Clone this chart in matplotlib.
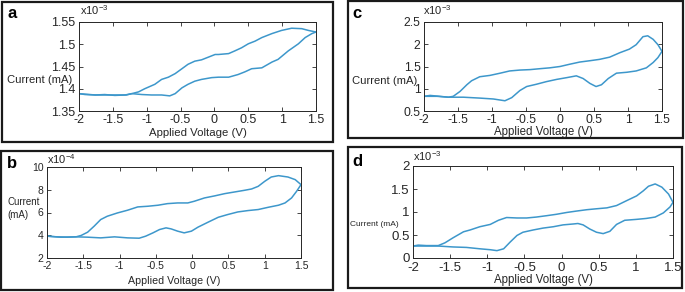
import matplotlib
matplotlib.use("Agg")
import matplotlib.pyplot as plt
from matplotlib.patches import Rectangle
from matplotlib.ticker import FuncFormatter

plt.rcParams['font.family'] = ['Liberation Sans', 'DejaVu Sans']
plt.rcParams['axes.unicode_minus'] = False

W, H = 685, 292
LINE_COLOR = '#3d97cb'

# panel a (x1e-3 mA): forward sweep -2 -> 1.5, then reverse 1.5 -> -2
a_fwd_v = [-2.0, -1.76, -1.5, -1.3, -1.22, -1.07, -0.93, -0.78, -0.66, -0.58, -0.48, -0.39, -0.29, -0.19,
           -0.04, 0.06, 0.21, 0.35, 0.45, 0.55, 0.70, 0.85, 0.94, 1.09, 1.24, 1.34, 1.44, 1.5]
a_fwd_i = [1.389, 1.386, 1.386, 1.386, 1.389, 1.387, 1.386, 1.386, 1.384, 1.389, 1.402, 1.410, 1.417, 1.421,
           1.425, 1.426, 1.426, 1.432, 1.438, 1.445, 1.447, 1.460, 1.466, 1.485, 1.501, 1.515, 1.524, 1.5275]
a_rev_v = [1.5, 1.39, 1.29, 1.14, 0.99, 0.85, 0.70, 0.60, 0.50, 0.40, 0.30, 0.21, 0.06, 0.01, -0.09, -0.19,
           -0.29, -0.39, -0.48, -0.58, -0.68, -0.78, -0.88, -1.03, -1.12, -1.22, -1.32, -1.47, -1.62, -1.76,
           -1.91, -2.0]
a_rev_i = [1.5275, 1.531, 1.535, 1.536, 1.531, 1.524, 1.515, 1.507, 1.501, 1.492, 1.485, 1.479, 1.477, 1.477,
           1.471, 1.465, 1.462, 1.455, 1.445, 1.434, 1.426, 1.421, 1.410, 1.400, 1.393, 1.389, 1.386, 1.385,
           1.387, 1.386, 1.387, 1.389]

# panel b (x1e-4 mA)
b_fwd_v = [-2.0, -1.81, -1.6, -1.44, -1.26, -1.07, -0.89, -0.73, -0.64, -0.54, -0.45, -0.36, -0.29, -0.20,
           -0.11, -0.01, 0.08, 0.22, 0.36, 0.49, 0.63, 0.77, 0.91, 1.05, 1.19, 1.28, 1.37, 1.44, 1.5]
b_fwd_i = [3.92, 3.83, 3.86, 3.83, 3.77, 3.86, 3.77, 3.74, 3.92, 4.21, 4.50, 4.65, 4.56, 4.36,
           4.21, 4.36, 4.71, 5.15, 5.58, 5.82, 6.05, 6.17, 6.26, 6.46, 6.64, 6.84, 7.28, 7.87, 8.45]
b_rev_v = [1.5, 1.42, 1.32, 1.19, 1.09, 1.0, 0.91, 0.82, 0.72, 0.59, 0.45, 0.31, 0.17, 0.03, -0.06, -0.20,
           -0.34, -0.47, -0.61, -0.75, -0.89, -1.03, -1.17, -1.26, -1.35, -1.44, -1.53, -1.60, -1.72, -1.86, -2.0]
b_rev_i = [8.45, 8.89, 9.12, 9.24, 9.12, 8.74, 8.30, 8.07, 7.95, 7.81, 7.66, 7.46, 7.28, 6.99, 6.84, 6.84,
           6.78, 6.64, 6.55, 6.49, 6.20, 5.96, 5.67, 5.38, 4.80, 4.27, 3.98, 3.86, 3.83, 3.86, 3.92]

# panel c (x1e-3 mA)
c_fwd_v = [-2.0, -1.81, -1.64, -1.42, -1.18, -0.98, -0.81, -0.71, -0.59, -0.49, -0.35, -0.20, -0.05, 0.10,
           0.24, 0.34, 0.44, 0.53, 0.61, 0.71, 0.83, 0.98, 1.12, 1.27, 1.37, 1.44, 1.5]
c_fwd_i = [0.83, 0.83, 0.81, 0.81, 0.79, 0.77, 0.73, 0.80, 0.96, 1.05, 1.10, 1.16, 1.21, 1.25,
           1.29, 1.23, 1.12, 1.05, 1.09, 1.23, 1.35, 1.37, 1.40, 1.47, 1.59, 1.70, 1.84]
c_rev_v = [1.5, 1.44, 1.37, 1.29, 1.22, 1.12, 1.02, 0.88, 0.73, 0.58, 0.44, 0.29, 0.14, 0.0, -0.15, -0.30,
           -0.44, -0.59, -0.74, -0.88, -1.03, -1.18, -1.30, -1.37, -1.47, -1.57, -1.64, -1.77, -1.91, -2.0]
c_rev_i = [1.84, 1.99, 2.11, 2.19, 2.17, 1.99, 1.89, 1.81, 1.71, 1.66, 1.63, 1.60, 1.55, 1.50, 1.47, 1.45,
           1.43, 1.42, 1.40, 1.35, 1.30, 1.27, 1.18, 1.09, 0.94, 0.83, 0.81, 0.83, 0.85, 0.83]

# panel d (x1e-3 mA)
d_fwd_v = [-2.0, -1.82, -1.66, -1.46, -1.28, -1.10, -0.96, -0.87, -0.78, -0.69, -0.60, -0.52, -0.38, -0.25,
           -0.11, 0.02, 0.16, 0.22, 0.29, 0.38, 0.47, 0.56, 0.65, 0.74, 0.85, 1.01, 1.14, 1.26, 1.37, 1.46, 1.5]
d_fwd_i = [0.26, 0.26, 0.26, 0.24, 0.23, 0.20, 0.18, 0.16, 0.20, 0.35, 0.49, 0.56, 0.61, 0.65,
           0.68, 0.72, 0.74, 0.75, 0.72, 0.63, 0.56, 0.53, 0.58, 0.73, 0.82, 0.84, 0.86, 0.89, 0.98, 1.11, 1.21]
d_rev_v = [1.5, 1.44, 1.35, 1.26, 1.17, 1.10, 1.01, 0.88, 0.74, 0.61, 0.47, 0.34, 0.20, 0.07, -0.07, -0.20,
           -0.34, -0.47, -0.60, -0.74, -0.85, -0.96, -1.10, -1.23, -1.32, -1.46, -1.57, -1.66, -1.82, -1.93, -2.0]
d_rev_i = [1.21, 1.39, 1.54, 1.61, 1.56, 1.46, 1.35, 1.25, 1.14, 1.09, 1.07, 1.05, 1.02, 0.99, 0.95, 0.92,
           0.89, 0.87, 0.87, 0.88, 0.82, 0.73, 0.68, 0.61, 0.57, 0.44, 0.33, 0.27, 0.27, 0.28, 0.26]

x_ticks = [-2, -1.5, -1, -0.5, 0, 0.5, 1, 1.5]

# ylab: list of (text, y pixel) lines, left aligned
panels = [
    dict(label='a', box=(2, 2, 333, 142), ax=(79, 22, 316, 111),
         fwd=(a_fwd_v, a_fwd_i), rev=(a_rev_v, a_rev_i),
         ylim=(1.35, 1.55), yticks=[1.35, 1.4, 1.45, 1.5, 1.55], exp='-3',
         tick_fs=9, lab_fs=8.2, ylab=[('Current (mA)', 80)], ylab_fs=8.1, ylab_x=7,
         xpad=2.5, lab_pos=(7, 13), exp_pos=(80, 10), xlab_y=133),
    dict(label='b', box=(1, 151, 333, 290), ax=(47, 167, 301, 258),
         fwd=(b_fwd_v, b_fwd_i), rev=(b_rev_v, b_rev_i),
         ylim=(2, 10), yticks=[2, 4, 6, 8, 10], exp='-4',
         tick_fs=7.5, lab_fs=7.7, ylab=[('Current', 202), ('(mA)', 215)], ylab_fs=7.0, ylab_x=7,
         xpad=2.5, lab_pos=(7, 163), exp_pos=(47, 159), xlab_y=281),
    dict(label='c', box=(348, 1, 683, 138), ax=(424, 22, 662, 111),
         fwd=(c_fwd_v, c_fwd_i), rev=(c_rev_v, c_rev_i),
         ylim=(0.5, 2.5), yticks=[0.5, 1, 1.5, 2, 2.5], exp='-3',
         tick_fs=8.7, lab_fs=8.3, ylab=[('Current (mA)', 81)], ylab_fs=8.1, ylab_x=352,
         xpad=2.5, lab_pos=(352, 13), exp_pos=(423, 10), xlab_y=131.5),
    dict(label='d', box=(348, 147, 682, 288), ax=(413, 166, 673, 258),
         fwd=(d_fwd_v, d_fwd_i), rev=(d_rev_v, d_rev_i),
         ylim=(0, 2), yticks=[0, 0.5, 1, 1.5, 2], exp='-3',
         tick_fs=9.5, lab_fs=8.3, ylab=[('Current (mA)', 224)], ylab_fs=6, ylab_x=350,
         xpad=3.2, lab_pos=(352, 162), exp_pos=(413, 156), xlab_y=279.5),
]


def fx(px):
    return px / W


def fy(py):
    return 1 - py / H


fig = plt.figure(figsize=(W / 100, H / 100), dpi=100)

for p in panels:
    x0, y0, x1, y1 = p['box']
    fig.patches.append(Rectangle((fx(x0), fy(y1)), fx(x1 - x0), (y1 - y0) / H,
                                 transform=fig.transFigure, fill=False,
                                 edgecolor='#1a1a1a', linewidth=1.6))

    l, t, r, b = p['ax']
    ax = fig.add_axes([fx(l), fy(b), fx(r - l), (b - t) / H])
    ax.plot(p['fwd'][0], p['fwd'][1], color=LINE_COLOR, lw=1.1)
    ax.plot(p['rev'][0], p['rev'][1], color=LINE_COLOR, lw=1.1)
    ax.set_xlim(-2, 1.5)
    ax.set_ylim(*p['ylim'])
    ax.set_xticks(x_ticks)
    ax.set_yticks(p['yticks'])
    ax.xaxis.set_major_formatter(FuncFormatter(lambda v, _: '%g' % v))
    ax.yaxis.set_major_formatter(FuncFormatter(lambda v, _: '%g' % v))
    ax.tick_params(direction='in', length=3, width=0.6, top=True, right=True,
                   labelsize=p['tick_fs'], colors='#262626')
    ax.tick_params(axis='x', pad=p['xpad'])
    ax.tick_params(axis='y', pad=2.5)
    for s in ax.spines.values():
        s.set_linewidth(0.7)
        s.set_color('#262626')

    fig.text(fx(p['lab_pos'][0]), fy(p['lab_pos'][1]), p['label'], fontsize=12,
             fontweight='bold', ha='left', va='center')
    fig.text(fx(p['exp_pos'][0]), fy(p['exp_pos'][1]),
             r'x10$^{\mathregular{%s}}$' % p['exp'], fontsize=8, ha='left',
             va='center', color='#262626')
    for txt, ypix in p['ylab']:
        fig.text(fx(p['ylab_x']), fy(ypix), txt, fontsize=p['ylab_fs'],
                 ha='left', va='center', color='#262626')
    fig.text(fx((l + r) / 2), fy(p['xlab_y']), 'Applied Voltage (V)',
             fontsize=p['lab_fs'], ha='center', va='center', color='#262626')

fig.savefig('out.png', dpi=100)
